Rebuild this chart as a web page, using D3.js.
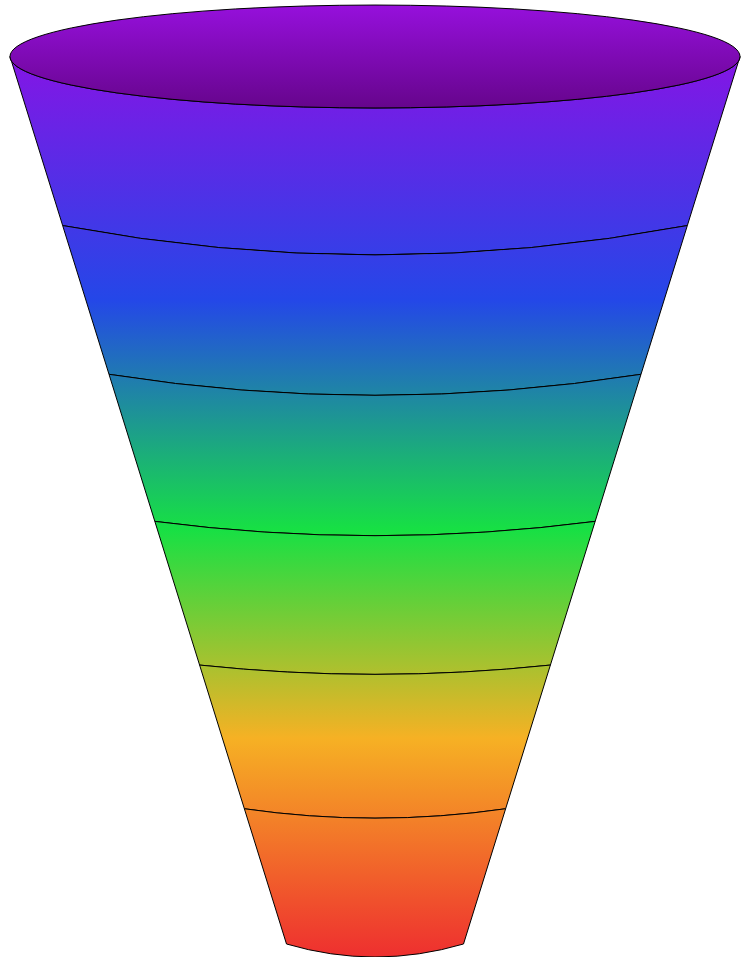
<!DOCTYPE html>
<html>
<head>
<meta charset="utf-8">
<script src="https://cdn.jsdelivr.net/npm/d3@7"></script>
<style>
  html, body { margin: 0; padding: 0; background: #ffffff; }
  svg { display: block; }
</style>
</head>
<body>
<div id="chart"></div>
<script>
// ---- data ----
const categories = ["Stage 1", "Stage 2", "Stage 3", "Stage 4", "Stage 5", "Stage 6"];
const values = [100, 88, 87, 85, 85, 80];

// ---- styling ----
const W = 745, H = 957;
const topY = 56.5, bottomY = 944;
const topHalf = 365, bottomHalf = 88.5;
const cx = 375;
const topRatio = 0.141;                       // ry / rx of the rim ellipse
const curveRatios = [0.094, 0.079, 0.065, 0.053, 0.072, 0.147]; // depth of each lower curve / half width
const gradStops = [
  { o: 0.00, c: "#8515e5" },
  { o: 0.27, c: "#2447e8" },
  { o: 0.525, c: "#17e044" },
  { o: 0.757, c: "#f6b124" },
  { o: 1.00, c: "#ee2f2f" }
];

const svg = d3.select("#chart").append("svg")
  .attr("width", W).attr("height", H);

const defs = svg.append("defs");
const g1 = defs.append("linearGradient")
  .attr("id", "bodyGrad").attr("gradientUnits", "userSpaceOnUse")
  .attr("x1", 0).attr("x2", 0).attr("y1", topY).attr("y2", H);
g1.selectAll("stop").data(gradStops).join("stop")
  .attr("offset", d => d.o).attr("stop-color", d => d.c);

const g2 = defs.append("linearGradient")
  .attr("id", "rimGrad").attr("x1", 0).attr("x2", 0).attr("y1", 0).attr("y2", 1);
g2.append("stop").attr("offset", 0).attr("stop-color", "#9610dc");
g2.append("stop").attr("offset", 1).attr("stop-color", "#66058c");

// scales
const total = d3.sum(values);
const yScale = d3.scaleLinear().domain([0, total]).range([topY, bottomY]);
const halfScale = d3.scaleLinear().domain([topY, bottomY]).range([topHalf, bottomHalf]);

const cum = [0];
values.forEach(v => cum.push(cum[cum.length - 1] + v));

const segs = values.map((v, i) => {
  const y0 = yScale(cum[i]), y1 = yScale(cum[i + 1]);
  return {
    name: categories[i],
    y0, y1,
    h0: halfScale(y0), h1: halfScale(y1),
    s0: i === 0 ? null : halfScale(y0) * curveRatios[i - 1],
    s1: halfScale(y1) * curveRatios[i]
  };
});

function segPath(d) {
  let s = `M${cx - d.h0},${d.y0}`;
  if (d.s0 === null) {
    const rx = d.h0, ry = d.h0 * topRatio;
    s += `A${rx},${ry} 0 0 0 ${cx + d.h0},${d.y0}`;
  } else {
    s += `Q${cx},${d.y0 + 2 * d.s0} ${cx + d.h0},${d.y0}`;
  }
  s += `L${cx + d.h1},${d.y1}`;
  s += `Q${cx},${d.y1 + 2 * d.s1} ${cx - d.h1},${d.y1}Z`;
  return s;
}

svg.append("g").selectAll("path.seg").data(segs).join("path")
  .attr("class", "seg")
  .attr("d", segPath)
  .attr("fill", "url(#bodyGrad)")
  .attr("stroke", "#000")
  .attr("stroke-width", 1)
  .attr("stroke-linejoin", "round");

// rim ellipse
svg.append("ellipse")
  .attr("cx", cx).attr("cy", topY)
  .attr("rx", topHalf).attr("ry", topHalf * topRatio)
  .attr("fill", "url(#rimGrad)")
  .attr("stroke", "#000")
  .attr("stroke-width", 1);
</script>
</body>
</html>
